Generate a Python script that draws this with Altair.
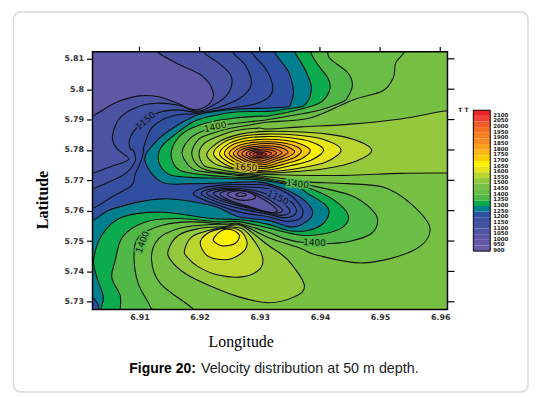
import altair as alt
import pandas as pd

# All traced points are (lon - 6.9, lat - 5.7) in thousandths of a degree.
low_1450 = [(54.5,116),(53.96,112),(52.6,108.7),(52.2,103.8),(50.4,99.4),(45.4,96.4),(38.5,90.6),(31.4,89.2),(29.75,88.7),(25.3,87.2),(22,85.4),(19.9,83.6),(18.7,79.2),(19.6,75.1),(21.5,73.2),(25.9,72.1),(30,71.5),(36,70),(38.5,69.4),(44.5,68.9),(50.6,67.7),(55.1,62.3),(58.3,54.1),(55.6,47),(47.4,42.8),(39.6,45.3),(36.9,47.5),(31.4,51.2),(26.5,55.4),(20.4,55.2),(16.5,54.1),(13.2,50.8),(12,44.2),(13.5,36),(19,27.5),(20,23),(-6,23),(-6,118),(54.5,118)]
low_1400 = [(41.3,116),(41.3,112),(41.8,109.8),(44.6,105.5),(45.4,101.6),(44.6,97.3),(43.5,95.6),(39.6,92.9),(31.4,90),(29.8,89.6),(24.2,88.3),(20.9,86.5),(18.5,84),(17.1,79.3),(18,75.3),(19.5,73.2),(23,72.3),(26,71.7),(30,71),(36.3,68.8),(38.5,68.3),(45.2,65),(48.5,60.6),(49.6,56.8),(48.5,52.4),(45.2,50),(41.8,49.2),(37.2,49.5),(34.1,50.8),(31.4,52.9),(26.5,55.8),(24.2,55.6),(18.7,56.3),(13.8,55.2),(9.9,51.4),(9.1,44.8),(9.8,36),(11.8,28.4),(12.4,23),(-6,23),(-6,118),(41.3,118)]
low_1350 = [(38,116),(38.5,112),(39.6,108.2),(41.3,103.8),(41.7,100.5),(41,97.3),(39.6,95.1),(35.8,92.9),(31.4,91.2),(29.8,91.1),(25.9,90.5),(22,89.3),(18.7,87.2),(16.5,84.1),(15.3,79.4),(15.7,75.4),(17.1,73),(20.9,71.8),(25.3,71.1),(30,70.6),(36,68.3),(38.5,67.2),(42.4,63.4),(44.7,58.5),(43.8,54.6),(40.7,52.4),(36.9,51.9),(31.4,54.3),(26.5,56.4),(23.1,56.3),(16.5,57.4),(11,56.3),(7.2,51.4),(6,43.7),(5.4,38),(6.8,32),(6.8,27),(7,23),(-6,23),(-6,118),(38,118)]
low_1300 = [(35.4,116),(35.9,112),(37.4,107),(38.5,101.6),(38.3,97.3),(37.2,94.5),(34.1,93.4),(31.4,92.7),(26.4,92.6),(23.1,91.6),(19.3,89.6),(16,85.2),(13.8,81.4),(13.1,77.6),(13.8,73.8),(15.4,71.6),(19.3,70.9),(23.7,70.7),(27.5,70.4),(30,70.1),(36,68),(38,65.6),(40.7,62.3),(41.5,59.5),(40.5,55.7),(38,53.5),(34.7,53.5),(31.4,55.5),(26.5,57.1),(22,57.4),(13.8,59.5),(7.2,57.9),(3.9,52.4),(2.4,44),(2.9,38.2),(4,31.7),(3.5,27),(3.2,23),(-6,23),(-6,118),(35.4,118)]
low_1250 = [(32.4,116),(32.5,112),(34.7,106),(35.6,99.4),(35.2,95.6),(34.7,94.2),(31.4,93.8),(26.4,93.5),(23.1,92.8),(19.5,91.4),(14.9,86.3),(12.4,82),(10.9,76.5),(13.7,69.4),(18.6,68.9),(24,69.1),(30,69.4),(34.7,66.6),(37.4,63.4),(38.8,59.5),(37.7,56.3),(35.2,54.6),(31.4,56.8),(26.5,58),(22,61.7),(13.8,63.9),(5.5,60.6),(2.2,56.8),(-4,53),(-6,53),(-6,118),(32.4,118)]
corner_1250 = [(1,32),(2.2,31.4),(3,29.5),(3.3,27),(3.3,25),(1,25)]
low_1150 = [(28.7,116),(28.7,112),(30.9,107),(32.1,101.6),(31.7,97.8),(29.2,95.1),(25.9,94),(22,92.7),(19.8,92),(15.4,91.2),(12.1,87.4),(10.7,80.9),(10.7,79.8),(10.3,76.5),(9.3,72.1),(8.7,68.3),(5.4,64.5),(2.1,60.6),(-3,57),(-6,57),(-6,118),(28.7,118)]
low_1100 = [(25.6,116),(25.6,112),(27.5,108.2),(28.5,103.8),(28.4,100.5),(26.4,96.7),(23.1,94),(19.8,92.4),(16.5,93.2),(13.2,92.3),(11,89.6),(9.1,86.3),(8.3,83),(8.5,80.3),(9,79.8),(9.3,76.5),(7.6,72.1),(4.3,68.9),(2.1,67.1),(-3,63),(-6,63),(-6,118),(25.6,118)]
low_1050 = [(20.5,116),(20.8,112),(23.1,108.7),(25.1,104.9),(25.3,101.1),(24.2,97.3),(22,94.5),(19.6,92.7),(16.5,94.7),(12.7,95.4),(9.4,94),(6.6,90.2),(5.5,84.1),(6.3,80.3),(8.2,76.9),(5.2,74.5),(2.2,72.3),(-3,70),(-6,70),(-6,118),(20.5,118)]
low_1000 = [(12,116),(13.2,112),(16.5,108.2),(20.4,104.4),(22.2,99.4),(21.8,95.6),(19.3,93.2),(16,95.6),(13.2,97.5),(9.9,97.8),(6.1,95.6),(2.2,91.2),(-3,87),(-6,87),(-6,118),(12,118)]

ring_1200 = [(19,65.3),(20.4,67.4),(24,68.5),(28,68.6),(31.4,68.3),(34.7,65.6),(36.3,62.8),(37.2,59.5),(36.3,57),(34.1,56.6),(31.4,58),(26.5,59.6),(22,62.6)]
ring_1150 = [(20.3,65.5),(21.5,67),(24.5,67.9),(28,67.8),(31.4,67.2),(33.7,65),(35.4,62.5),(36.1,59.8),(35.2,58),(33.5,57.8),(31.4,58.8),(27,60.6),(23,62.8)]
ring_1100 = [(21.2,65.6),(22.3,66.8),(25,67.4),(28,67),(31,65.6),(33.5,63),(35,60),(34.2,58.6),(32.7,58.6),(30,59.9),(26.5,61.6),(23,63.7)]
ring_1050 = [(22.3,65.6),(23.3,66.6),(25.3,67),(28,66.5),(30.5,64.8),(32.4,62.5),(33.8,60.2),(33,59.2),(31.5,59.4),(29,60.7),(26,62.3),(23.5,64.1)]
ring_1000 = [(23.4,65.6),(24.3,66.4),(26,66.7),(28.2,66),(30.2,64.2),(32,61.9),(32.9,60),(32.2,59.4),(30.5,60),(28,61.5),(25.5,63),(24,64.4)]
ring_950 = [(24.6,65.4),(25.7,66.4),(27.4,66.4),(28.9,65.4),(29.2,64.1),(27.4,63.4),(25.7,64)]
ring_900 = [(26,65.2),(26.8,65.9),(27.8,65.2),(26.8,64.7)]

lobe_1500 = [(14.8,47),(16.5,51.9),(19.8,54.1),(24.2,54.8),(27,55),(31.4,48.6),(34.7,43.7),(37.4,35.5),(35.8,31.7),(31.4,29.7),(26.4,31.7),(22,35),(17.6,39.3),(15.2,43.7)]
lobe_1550 = [(17.5,47),(18.7,51.4),(21.5,53.5),(24.2,54.5),(27,54.1),(29.2,49.7),(30.5,44.2),(29.8,40.4),(27,38.2),(23.1,38.8),(19.8,41.5),(17.9,44.8)]
lobe_1600 = [(20.1,49.2),(21.2,52.4),(23.7,54.1),(26.4,53.8),(27.8,50.3),(27.5,47),(25.3,44.2),(23.1,44),(21.2,45.3)]
lobe_1650 = [(22.3,50.8),(23.7,53.5),(25.3,53.7),(26.6,51.9),(25.9,49.2),(23.7,48.4),(22.5,49.7)]

high_1500 = [(66,93),(61.1,92.9),(53.4,90.2),(45.1,88.5),(36.9,87.6),(31.4,86.9),(29.75,87.2),(25.9,86.3),(22.6,84.1),(20.7,82),(19.9,78.7),(20.7,74.9),(22.6,73.8),(25.9,72.7),(30,72),(42.4,71.6),(53.4,72.3),(61.1,72.4),(66,72.4)]
high_1550 = [(21.2,78.7),(23.5,83),(27,85.3),(31,86.1),(36,86),(41,85.3),(45.5,83.5),(48.6,80),(46,76.3),(41,73.9),(36,72.9),(31,72.4),(28,72.9),(25,74),(22.5,75.5)]
high_1600 = [(22.3,78.7),(24,82.5),(27,84.5),(31,85.2),(36,84.9),(40.5,83.5),(43.5,80),(41,76),(36.5,74),(31,72.8),(27,73.3),(24.2,75.3)]
high_1650 = [(23.3,78.7),(24.8,82),(27.5,83.8),(31,84.4),(35,84),(38.5,82.7),(40.6,80),(38.5,76.6),(35,74.8),(31,73.3),(27.5,73.8),(25,75.7)]
high_1700 = [(24.1,78.7),(25.4,81.6),(27.8,83),(31,83.5),(34.5,83.1),(37,81.8),(38.4,79.8),(37,77.2),(34.5,75.6),(31,74),(27.8,74.5),(25.6,76.2)]
high_1750 = [(24.9,78.7),(26,81),(28.2,82.3),(31,82.7),(34,82.3),(36,81.2),(36.9,79.6),(35.8,77.5),(33.5,76),(31,74.6),(28.2,75),(26.2,76.6)]
high_1800 = [(25.6,78.7),(26.6,80.6),(28.5,81.6),(31,82.1),(33.5,81.7),(35,80.7),(35.8,79.4),(34.8,77.8),(33,76.6),(30.8,75.2),(28.5,75.5),(26.7,77)]
high_1850 = [(26.3,78.7),(27.1,80.2),(28.7,81),(31,81.4),(33,81),(34.2,80.2),(34.7,79.2),(33.9,78),(32.5,77),(30.6,75.8),(28.7,76),(27.2,77.3)]
high_1900 = [(27,78.7),(27.6,79.9),(29,80.5),(30.8,80.9),(32.5,80.4),(33.4,79.7),(33.7,79),(33,78.1),(31.9,77.3),(30.4,76.4),(29,76.6),(27.7,77.6)]
high_1950 = [(27.7,78.7),(28.2,79.6),(29.3,80.1),(30.6,80.3),(32,79.9),(32.8,79),(32.2,78.1),(31.2,77.4),(30.1,77),(29,77.2),(28.1,77.9)]
high_2000 = [(28.3,78.7),(28.8,79.4),(29.7,79.7),(30.7,79.7),(31.6,79.3),(32,78.8),(31.4,78.1),(30.5,77.6),(29.5,77.5),(28.7,78)]
high_2050 = [(28.9,78.7),(29.4,79.2),(30.1,79.3),(30.8,79),(31.1,78.6),(30.6,78.1),(29.9,77.9),(29.2,78.2)]
high_2100 = [(29.5,78.7),(30,79),(30.5,78.7),(30,78.4)]

legend_levels = list(range(900, 2150, 50))
legend_colors = ["#6B5BA7","#6358A5","#5A56A4","#4D54A3","#4452A2","#3B50A1","#2F4FA1","#007F8E","#0CAB4E","#50B748","#6ABD45","#77C043","#94C83D","#BBD530","#E6E41A","#FFF200","#FFCB05","#FDB913","#F9A01B","#F68B1F","#F58220","#F26F21","#F15A29","#EF4136","#EC2227"]
lon_ticks = [6.91, 6.92, 6.93, 6.94, 6.95, 6.96]
lat_ticks = [5.73, 5.74, 5.75, 5.76, 5.77, 5.78, 5.79, 5.80, 5.81]
contour_labels = [("1150",11,89.6,320,"#3B50A1"),("1400",22.6,87.6,348,"#6ABD45"),("1400",36.3,68.8,6,"#50B748"),("1400",39.1,49.5,3,"#50B748"),("1400",10.5,49.7,290,"#50B748"),("1150",33,64.3,25,"#3B50A1"),("1650",27.7,74.3,5,"#C9B020")]
band = dict(zip(legend_levels, legend_colors))
paint = [
    (low_1450, band[1400]), (low_1400, band[1350]), (low_1350, band[1300]), (low_1300, band[1250]),
    (low_1250, band[1200]), (corner_1250, band[1200]), (low_1150, "#374FA0"), (low_1100, "#4052A1"), (low_1050, "#4A54A3"), (low_1000, "#5E58A5"),
    (ring_1200, "#344FA1"), (ring_1150, band[1150]), (ring_1100, band[1100]), (ring_1050, band[1050]), (ring_1000, band[1000]), (ring_950, band[950]), (ring_900, band[900]),
    (lobe_1500, band[1500]), (lobe_1550, band[1550]), (lobe_1600, band[1600]), (lobe_1650, band[1650]),
    (high_1500, band[1500]), (high_1550, band[1550]), (high_1600, band[1600]), (high_1650, band[1650]), (high_1700, band[1700]), (high_1750, band[1750]), (high_1800, band[1800]),
    (high_1850, band[1850]), (high_1900, band[1900]), (high_1950, band[1950]), (high_2000, band[2000]), (high_2050, band[2050]), (high_2100, band[2100]),
]

rows = []
for k, (pts, col) in enumerate(paint):
    for i, (a, b) in enumerate(pts):
        rows.append({"id": k, "i": i, "lon": 6.9 + a / 1000, "lat": 5.7 + b / 1000, "col": col})
df = pd.DataFrame(rows)

W, H = 357, 259
xs = alt.Scale(domain=[6.9022, 6.9612], nice=False, zero=False)
ys = alt.Scale(domain=[5.7275, 5.8123], nice=False, zero=False)
tick_font = "DejaVu Sans"
one = pd.DataFrame({"a": [0]})

card = alt.Chart(one).mark_rect(fill="white", stroke="#d9d9d9", strokeWidth=1.5, cornerRadius=7).encode(
    x=alt.value(-79.5), x2=alt.value(438), y=alt.value(-40), y2=alt.value(342))
base = alt.Chart(one).mark_rect(fill=band[1450]).encode(
    x=alt.value(0), x2=alt.value(W), y=alt.value(0), y2=alt.value(H))

contours = alt.Chart(df).mark_line(clip=True, interpolate="cardinal-closed", stroke="#111111", strokeWidth=1.1).encode(
    x=alt.X("lon:Q", scale=xs, axis=alt.Axis(values=lon_ticks, orient="bottom", format=".2f", title=None, grid=False, domain=False, tickSize=0, labelPadding=4, labelFont=tick_font, labelFontWeight="bold", labelFontSize=8, labelColor="#333333", zindex=1)),
    y=alt.Y("lat:Q", scale=ys, axis=alt.Axis(values=lat_ticks, orient="left", format=".2~f", title=None, grid=False, domain=False, tickSize=6, tickColor="black", tickWidth=1.2, labelPadding=3, labelFont=tick_font, labelFontWeight="bold", labelFontSize=8, labelColor="#333333", zindex=1)),
    fill=alt.Fill("col:N", scale=None),
    detail="id:N",
    order="i:Q",
)

ldf = pd.DataFrame([{"t": t, "lon": 6.9 + a / 1000, "lat": 5.7 + b / 1000, "ang": g, "halo": h} for t, a, b, g, h in contour_labels])
def lab(**kw):
    return alt.Chart(ldf).mark_text(font="DejaVu Sans", fontSize=9, **kw).encode(
        x=alt.X("lon:Q", scale=xs, axis=None), y=alt.Y("lat:Q", scale=ys, axis=None), text="t:N", angle=alt.Angle("ang:Q", scale=None))
halo = lab(strokeWidth=3).encode(stroke=alt.Stroke("halo:N", scale=None))
labels = lab(fill="#111111")

frame = alt.Chart(one).mark_rect(fillOpacity=0, stroke="black", strokeWidth=1.5).encode(
    x=alt.value(0), x2=alt.value(W), y=alt.value(0), y2=alt.value(H))
top_ticks = alt.Chart(pd.DataFrame({"lon": lon_ticks})).mark_rule(color="black", strokeWidth=1.2).encode(
    x=alt.X("lon:Q", scale=xs, axis=None), y=alt.value(-5), y2=alt.value(0))
right_ticks = alt.Chart(pd.DataFrame({"lat": lat_ticks})).mark_rule(color="black", strokeWidth=1.2).encode(
    y=alt.Y("lat:Q", scale=ys, axis=None), x=alt.value(W), x2=alt.value(W + 7))

leg_scale = alt.Scale(domain=[900, 2150], range=[200.4, 58.7], nice=False, zero=False)
leg = pd.DataFrame({"lo": legend_levels, "hi": [v + 50 for v in legend_levels], "col": legend_colors})
leg_cells = alt.Chart(leg).mark_rect().encode(
    x=alt.value(383), x2=alt.value(400),
    y=alt.Y("lo:Q", scale=leg_scale, axis=None), y2="hi:Q", fill=alt.Fill("col:N", scale=None))
leg_frame = alt.Chart(one).mark_rect(fillOpacity=0, stroke="black", strokeWidth=1).encode(
    x=alt.value(383), x2=alt.value(400), y=alt.value(58.7), y2=alt.value(200.4))
leg_text = alt.Chart(leg).mark_text(align="left", baseline="middle", font="DejaVu Sans", fontWeight="bold", fontSize=5.5, fill="#222222", dy=-1).encode(
    x=alt.value(403), y=alt.Y("lo:Q", scale=leg_scale, axis=None), text="lo:N")

def note(text, x, y, **kw):
    return alt.Chart(one).mark_text(text=text, baseline="middle", **kw).encode(x=alt.value(x), y=alt.value(y))

chart = alt.layer(
    card, base, contours, halo, labels, frame, top_ticks, right_ticks, leg_cells, leg_frame, leg_text,
    note("T T", 373, 58, fontSize=6, fontWeight="bold", font="DejaVu Sans", fill="#222222"),
    note("Longitude", 149.5, 291.5, fontSize=16, font="Liberation Serif", fill="black", align="center"),
    note("Latitude", -50, 149, fontSize=16, font="Liberation Serif", fontWeight="bold", fill="black", align="center", angle=270),
    note("Figure 20:", 37, 319, fontSize=14, font="Liberation Sans", fontWeight="bold", fill="black", align="left"),
    note("Velocity distribution at 50 m depth.", 109, 319, fontSize=14.4, font="Liberation Sans", fill="#222222", align="left"),
).resolve_scale(y="independent", x="independent").properties(
    width=W, height=H, padding={"left": 85, "top": 43, "right": 85, "bottom": 84},
    autosize=alt.AutoSizeParams(type="none"),
).configure_view(stroke=None)

chart.save("out.html", embed_options={"renderer": "svg", "actions": False})
